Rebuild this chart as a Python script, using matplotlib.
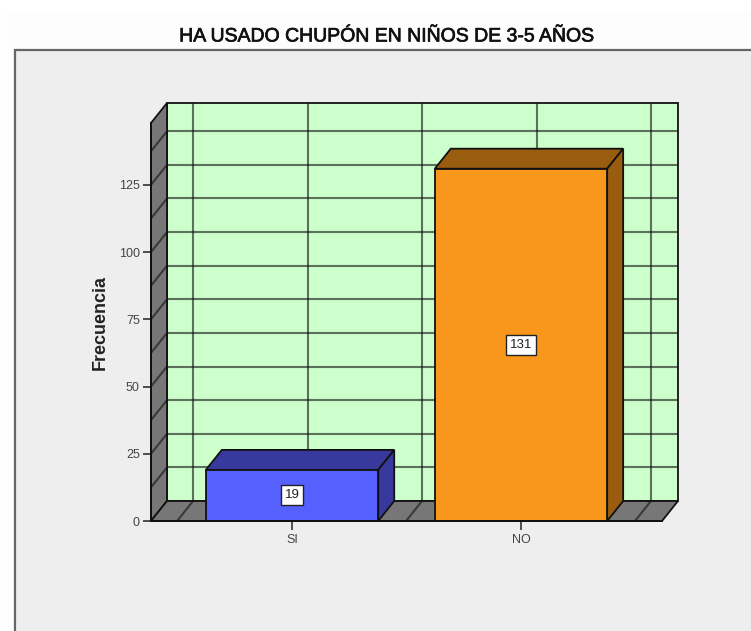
import matplotlib.pyplot as plt
import matplotlib.patheffects as pe
from matplotlib.patches import Rectangle

W, H = 751, 631

categorias = ["SI", "NO"]
frecuencias = [19, 131]
colores = ["#5560ff", "#f9971c"]
colores_osc = ["#373a9c", "#9a5c0e"]
y_ticks = [0, 25, 50, 75, 100, 125]
grid_y = [12.5, 25, 37.5, 50, 62.5, 75, 87.5, 100, 112.5, 125, 137.5]
grid_x = [-0.5, 0, 0.5, 1, 1.5]

plt.rcParams['font.family'] = ['Liberation Sans', 'DejaVu Sans']

fig = plt.figure(figsize=(W / 100, H / 100), dpi=100, facecolor="white")

# fondo y marco del grafico
fig.add_artist(Rectangle((7 / W, 0), 1, 1 - 10 / H, transform=fig.transFigure,
                         fc="#fdfdfd", ec="none", zorder=-3))
fig.add_artist(Rectangle((15 / W, -0.05), 1, 1.05 - 50 / H, transform=fig.transFigure,
                         fc="#eeeeee", ec="#666666", lw=1.6, zorder=-2))

# el eje coincide con el plano frontal
ax = fig.add_axes([151 / W, 1 - 521 / H, (662 - 151) / W, (521 - 123) / H])
ax.patch.set_visible(False)
x0, x1 = -0.616, 1.616
y1 = 148
ax.set_xlim(x0, x1)
ax.set_ylim(0, y1)
dx = 16 / 229   # profundidad en unidades de datos
dy = 7.44
ancho = 0.753


def poly(xs, ys, fc, z, lw=1.3):
    ax.fill(xs, ys, fc=fc, ec="#111111", lw=lw, zorder=z, clip_on=False, joinstyle="miter")


def seg(xs, ys, z, lw=1.5, alpha=0.6):
    ax.plot(xs, ys, color="#111111", lw=lw, alpha=alpha, zorder=z, clip_on=False,
            solid_capstyle="butt")


# pared del fondo, lateral y suelo
poly([x0 + dx, x1 + dx, x1 + dx, x0 + dx], [dy, dy, y1 + dy, y1 + dy], "#ccffcc", 1)
poly([x0, x0 + dx, x0 + dx, x0], [0, dy, y1 + dy, y1], "#777777", 1)
poly([x0, x1, x1 + dx, x0 + dx], [0, 0, dy, dy], "#777777", 1)

for v in grid_y:
    seg([x0, x0 + dx], [v, v + dy], 2)
    seg([x0 + dx, x1 + dx], [v + dy, v + dy], 2)
for v in grid_x:
    seg([v + dx - 0.002, v + dx - 0.002], [dy, y1 + dy], 2)
    seg([v - 0.002, v + dx - 0.002], [0, dy], 2)

# barras
for i, v in enumerate(frecuencias):
    iz, de = i - ancho / 2, i + ancho / 2
    poly([iz, de, de + dx, iz + dx], [v, v, v + dy, v + dy], colores_osc[i], 3)
    poly([de, de + dx, de + dx, de], [0, dy, v + dy, v], colores_osc[i], 3)
    ax.bar(i, v, width=ancho, color=colores[i], edgecolor="#111111", linewidth=1.3,
           zorder=4, clip_on=False)
    ax.text(i, v / 2, str(v), ha="center", va="center", fontsize=9.5, color="#222222", zorder=5,
            bbox=dict(boxstyle="square,pad=0.3", fc="white", ec="#222222", lw=1))

ax.set_xticks(range(len(categorias)), categorias)
ax.set_yticks(y_ticks)
ax.tick_params(axis="y", length=6, width=1.1, color="#222222", labelsize=9,
               labelcolor="#444444", pad=2)
ax.tick_params(axis="x", length=6.5, width=1.1, color="#222222", labelsize=9,
               labelcolor="#444444", pad=3)
for s in ["top", "right"]:
    ax.spines[s].set_visible(False)
for s in ["left", "bottom"]:
    ax.spines[s].set_linewidth(1.4)
    ax.spines[s].set_color("#111111")
    ax.spines[s].set_zorder(6)

fig.text(100 / W, 1 - 322 / H, "Frecuencia", rotation=90, ha="center", va="center",
         fontsize=13, fontweight="bold", color="#222222")
fig.text(387 / W, 1 - 37 / H, "HA USADO CHUPÓN EN NIÑOS DE 3-5 AÑOS", ha="center", va="center",
         fontsize=14, color="#111111",
         path_effects=[pe.withStroke(linewidth=0.5, foreground="#111111")])

fig.savefig("out.png", dpi=100)
